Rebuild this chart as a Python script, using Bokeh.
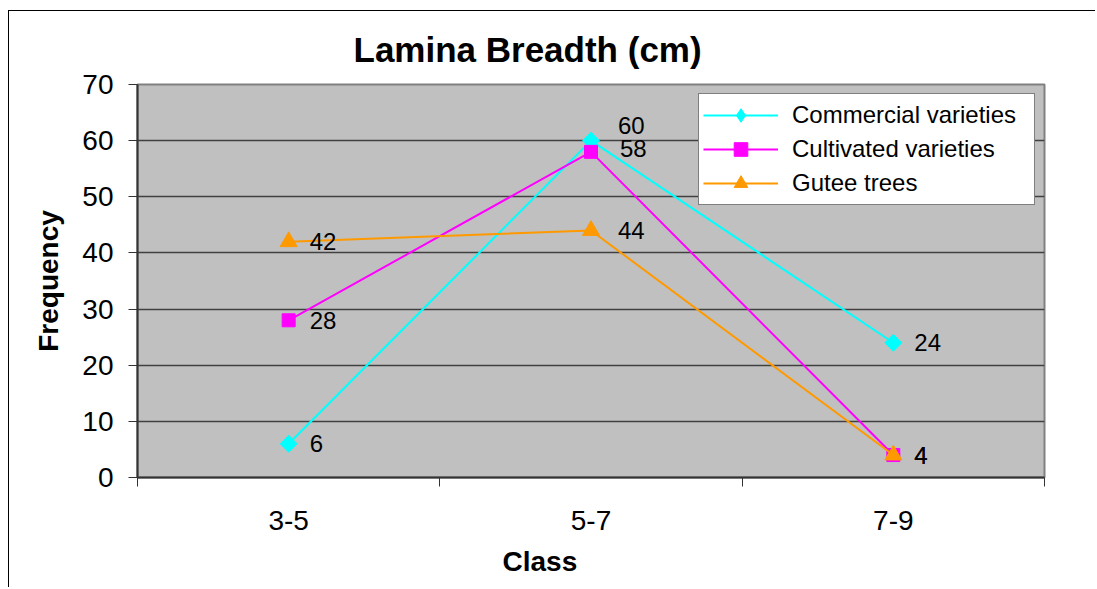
import numpy as np
from bokeh.plotting import figure
from bokeh.models import (ColumnDataSource, FixedTicker, Range1d, Legend, LegendItem,
                          LabelSet, Title)
from bokeh.core.properties import value
from bokeh.embed import file_html
from bokeh.resources import INLINE

# ---- data ----
categories = ["3-5", "5-7", "7-9"]
commercial = [6, 60, 24]
cultivated = [28, 58, 4]
gutee = [42, 44, 4]
series_names = ["Commercial varieties", "Cultivated varieties", "Gutee trees"]
y_ticks = [0, 10, 20, 30, 40, 50, 60, 70]
title_text = "Lamina Breadth (cm)"
x_title = "Class"
y_title = "Frequency"

# label nudges (pixels) to mimic the reference's label placement
label_dx = [[21, 27, 21], [21, 29, 21], [21, 27, 21]]
label_dy = [[0, 15, 0], [0, 3, 0], [0, 0, 0]]

FONT = "Liberation Sans"
xs = [i + 0.5 for i in range(len(categories))]

p = figure(width=1087, height=577, output_backend="svg", toolbar_location=None,
           x_range=Range1d(0, len(categories)), y_range=Range1d(0, 70),
           min_border_left=128, min_border_right=52, min_border_top=73,
           min_border_bottom=111)
p.styles = {"border-left": "1.5px solid #000", "border-top": "1.5px solid #000",
            "margin-left": "8px", "margin-top": "10px"}
p.background_fill_color = "#C0C0C0"
p.border_fill_color = "white"
p.outline_line_color = "#808080"
p.outline_line_width = 2

p.title = Title(text=title_text, align="left", offset=216,
                text_font=FONT, text_font_size="35px", text_font_style="bold",
                text_color="black", standoff=31)

# axes
p.xaxis.ticker = FixedTicker(ticks=xs, minor_ticks=list(range(len(categories) + 1)))
p.xaxis.major_label_overrides = {x: c for x, c in zip(xs, categories)}
p.xaxis.major_tick_out = 0
p.xaxis.major_tick_in = 0
p.xaxis.minor_tick_out = 9
p.xaxis.minor_tick_in = 0
p.xaxis.minor_tick_line_color = "#333333"
p.xaxis.axis_line_color = "#333333"
p.xaxis.axis_line_width = 2
p.xaxis.major_label_text_font = FONT
p.xaxis.major_label_text_font_size = "28px"
p.xaxis.major_label_text_color = "black"
p.xaxis.major_label_standoff = 24

p.yaxis.ticker = FixedTicker(ticks=y_ticks, minor_ticks=[])
p.yaxis.major_tick_out = 9
p.yaxis.major_tick_in = 0
p.yaxis.major_tick_line_color = "#333333"
p.yaxis.axis_line_color = "#333333"
p.yaxis.axis_line_width = 2
p.yaxis.major_label_text_font = FONT
p.yaxis.major_label_text_font_size = "28px"
p.yaxis.major_label_text_color = "black"
p.yaxis.major_label_standoff = 15
p.yaxis.axis_label = y_title
p.yaxis.axis_label_text_font = FONT
p.yaxis.axis_label_text_font_size = "28px"
p.yaxis.axis_label_text_font_style = "bold"
p.yaxis.axis_label_text_color = "black"
p.yaxis.axis_label_standoff = 15

p.add_layout(Title(text=x_title, align="left", offset=365, text_font=FONT,
                   text_font_size="28px", text_font_style="bold",
                   text_color="black", standoff=22), "below")

p.xgrid.grid_line_color = None
p.ygrid.grid_line_color = "#404040"
p.ygrid.grid_line_width = 1.5

colors = ["#00FFFF", "#FF00FF", "#FF9900"]
markers = ["square", "square", "triangle"]
legend_markers = ["diamond", "square", "triangle"]
angles = [np.pi / 4, 0, 0]
sizes = [12, 13, 17]

items = []
for k, (name, vals) in enumerate(zip(series_names, [commercial, cultivated, gutee])):
    src = ColumnDataSource(dict(x=xs, y=vals, lab=[str(v) for v in vals],
                                dx=label_dx[k], dy=label_dy[k]))
    ln = p.line("x", "y", source=src, line_color=colors[k], line_width=2)
    sc = p.scatter("x", "y", source=src, marker=markers[k], size=sizes[k],
                   angle=angles[k], fill_color=colors[k], line_color=colors[k])
    # off-range marker used only for the legend swatch
    lg = p.scatter(x=[-5], y=[-50], marker=legend_markers[k], size=sizes[k],
                   fill_color=colors[k], line_color=colors[k])
    items.append(LegendItem(label=name, renderers=[ln, lg]))
    p.add_layout(LabelSet(x="x", y="y", text="lab", source=src, x_offset="dx",
                          y_offset="dy", text_font=value(FONT),
                          text_font_size=value("24px"),
                          text_color="black", text_align="left",
                          text_baseline="middle"))

legend = Legend(items=items, location="top_right", margin=9, padding=4,
                spacing=-4, glyph_width=75, glyph_height=34, label_height=34,
                label_width=238, label_standoff=14,
                label_text_font=FONT, label_text_font_size="24px",
                label_text_color="black",
                border_line_color="black", border_line_width=1,
                background_fill_color="white", background_fill_alpha=1)
p.add_layout(legend)

open("out.html", "w").write(file_html(p, INLINE))
